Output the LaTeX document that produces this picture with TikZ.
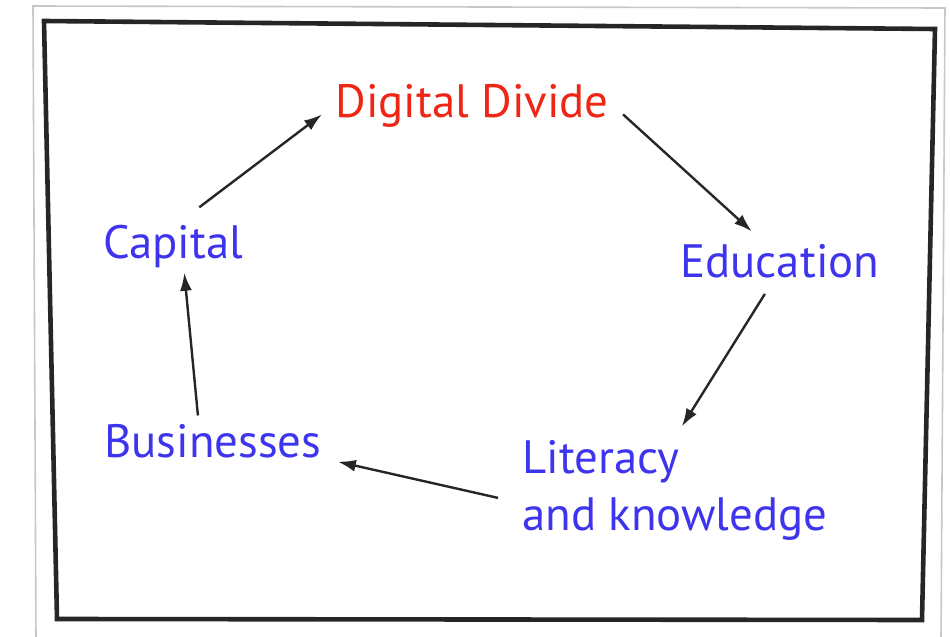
\documentclass[tikz,border=0pt]{standalone}
\usepackage{fontspec}
\setmainfont{PT Sans}
\usetikzlibrary{arrows.meta}
\definecolor{ddred}{RGB}{238,38,22}
\definecolor{ddblue}{RGB}{62,52,238}
\begin{document}
\begin{tikzpicture}[x=0.5pt,y=-0.5pt,>={Latex[length=9pt,width=6pt]},
	lbl/.style={inner sep=0pt,anchor=base west,font=\fontsize{23.4}{28.5}\selectfont,align=left},
	arr/.style={->,line width=1.2pt,color=black!85}]

\useasboundingbox (0,0) rectangle (950,637);

\draw[color=black!22,line width=0.8pt] (33,6)--(945,8)--(941,640)--(36,640)--cycle;
\draw[color=black!85,line width=2.3pt,line join=miter] (44,21)--(935,29)--(922,620)--(57,619)--cycle;

\node (dd) at (335,118) [lbl,color=ddred] {Digital Divide};
\node (edu) at (680,277) [lbl,color=ddblue] {Education};
\node (lit) at (522,530) [lbl,color=ddblue] {Literacy\\and knowledge};
\node (bus) at (104,457) [lbl,color=ddblue] {Businesses};
\node (cap) at (103,258) [lbl,color=ddblue] {Capital};

\draw[arr] ([shift={(26,-17)}]cap.north)--([shift={(-13,8)}]dd.west);
\draw[arr] ([shift={(14,8)}]dd.east)--([shift={(-28,-12)}]edu.north);
\draw[arr] ([shift={(-15,16)}]edu.south)--([shift={(7,-13)}]lit.north);
\draw[arr] ([shift={(-24,8)}]lit.west)--([shift={(16,21)}]bus.east);
\draw[arr] ([shift={(-15,-8)}]bus.north)--([shift={(11,5)}]cap.south);

\end{tikzpicture}
\end{document}
